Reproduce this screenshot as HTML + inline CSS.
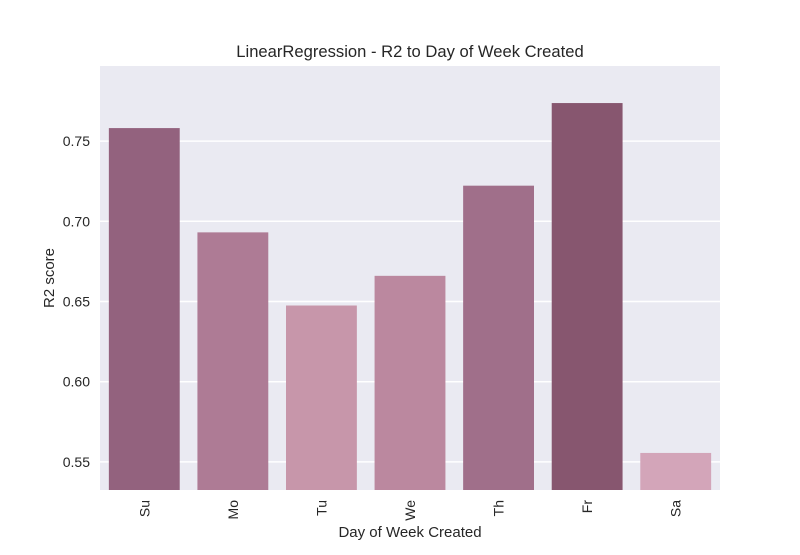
<!DOCTYPE html>
<html><head><meta charset="utf-8"><style>
body{margin:0;background:#fff;}
svg text{font-family:"Liberation Sans","DejaVu Sans",sans-serif;fill:#262626;}
</style></head><body>
<svg id="chart" width="800" height="550" xmlns="http://www.w3.org/2000/svg">
<rect x="0" y="0" width="800" height="550" fill="#fff"/>
<rect x="100" y="66" width="620" height="424" fill="#eaeaf2"/>
<g id="grid"></g><g id="bars"></g><g id="yticks"></g><g id="xticks"></g>
<text x="410" y="57" text-anchor="middle" font-size="16.6">LinearRegression - R2 to Day of Week Created</text>
<text x="410" y="537" text-anchor="middle" font-size="15">Day of Week Created</text>
<text transform="translate(54,278) rotate(-90)" text-anchor="middle" font-size="15">R2 score</text>
</svg>
<script>
const categories=["Su","Mo","Tu","We","Th","Fr","Sa"];
const values=[0.7581,0.6931,0.6475,0.6660,0.7222,0.7737,0.5556];
const colors=["#93627e","#ae7b95","#c796aa","#bb889f","#a06f8a","#87566f","#d3a5b9"];
const yTicks=[0.55,0.60,0.65,0.70,0.75];
const yTickLabels=["0.55","0.60","0.65","0.70","0.75"];
const NS="http://www.w3.org/2000/svg";
const L=100,R=720,T=66,B=490,yMin=0.5325,yMax=0.7968;
function y(v){return B-(v-yMin)/(yMax-yMin)*(B-T);}
const band=(R-L)/categories.length;
function x(i){return L+band*i;}
function mk(tag,attrs,parent){const e=document.createElementNS(NS,tag);for(const k in attrs)e.setAttribute(k,attrs[k]);document.getElementById(parent).appendChild(e);return e;}
yTicks.forEach((t,i)=>{
  const g=mk("line",{x1:L,x2:R,y1:y(t),y2:y(t),stroke:"#fff","stroke-width":1.5},"grid");
  
  
  const tx=mk("text",{x:L-10,y:y(t)+5,"text-anchor":"end","font-size":14},"yticks");
  tx.textContent=yTickLabels[i];
  
  
});
categories.forEach((c,i)=>{
  const w=band*0.8,bx=x(i)+band*0.1;
  const r=mk("rect",{x:bx,y:y(values[i]),width:w,height:B-y(values[i]),fill:colors[i]},"bars");
  
  
  const cx=x(i)+band/2;
  const tx=mk("text",{transform:"translate("+(cx+5)+","+(B+10)+") rotate(-90)","text-anchor":"end","font-size":14},"xticks");
  tx.textContent=c;
  
  
});
</script>
</body></html>
